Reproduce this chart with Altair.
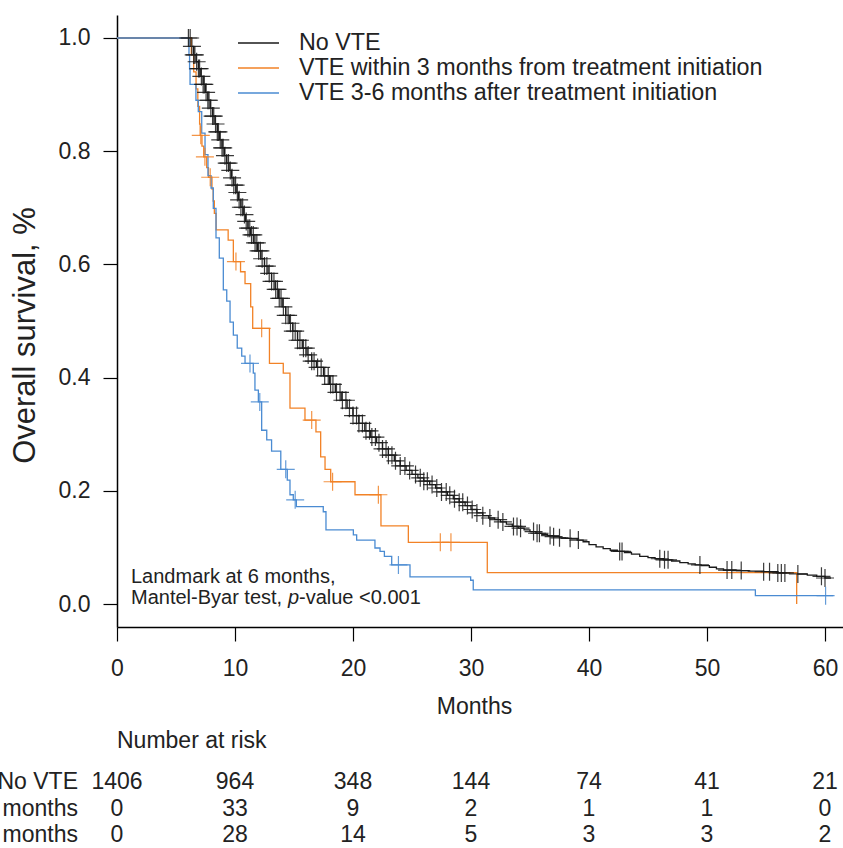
import altair as alt
import numpy as np
import pandas as pd

FONT = "Liberation Sans"
TXT = "#222222"

GROUPS = ["No VTE",
          "VTE within 3 months from treatment initiation",
          "VTE 3-6 months after treatment initiation"]
COLORS = ["#1a1a1a", "#F28226", "#4A8BD2"]

# Kaplan-Meier step points (months, survival)
NOVTE_T = [0, 6.0, 6.3, 6.5, 6.7, 6.9, 7.1, 7.3, 7.5, 7.7, 7.9, 8.1, 8.3, 8.5, 8.7, 8.9,
           9.1, 9.3, 9.5, 9.7, 9.9, 10.1, 10.3, 10.5, 10.7, 10.9, 11.1, 11.3, 11.6, 11.9,
           12.2, 12.5, 12.8, 13.1, 13.4, 13.7, 14.0, 14.3, 14.6, 14.9, 15.3, 15.7, 16.1,
           16.5, 16.9, 17.5, 18.0, 18.5, 19.0, 19.5, 20.0, 20.5, 21.0, 21.5, 22.0, 22.5,
           23.0, 23.5, 24.0, 24.5, 25.0, 25.5, 26.0, 26.5, 27.0, 27.5, 28.0, 28.5, 29.0,
           29.5, 30.0, 30.5, 31.0, 31.5, 32.0, 32.5, 33.0, 33.5, 34.0, 34.5, 35.0, 35.5,
           36.0, 36.5, 37.0, 37.5, 38.0, 38.5, 39.0, 39.5, 40.0, 40.6, 41.2, 41.8, 42.4,
           43.0, 43.6, 44.3, 45.0, 45.6, 46.3, 47.0, 47.7, 48.4, 49.0, 49.5, 50.2, 50.8,
           51.4, 52.5, 53.5, 54.8, 56.0, 57.6, 58.5, 59.3, 60.0, 60.5]
NOVTE_S = [1.0, 1.0, 0.985, 0.970, 0.958, 0.946, 0.932, 0.918, 0.904, 0.890, 0.876, 0.862,
           0.848, 0.834, 0.820, 0.806, 0.792, 0.779, 0.766, 0.753, 0.740, 0.727, 0.714,
           0.701, 0.688, 0.676, 0.664, 0.652, 0.638, 0.624, 0.610, 0.597, 0.584, 0.570,
           0.556, 0.540, 0.525, 0.510, 0.496, 0.482, 0.466, 0.452, 0.440, 0.429, 0.418,
           0.403, 0.388, 0.374, 0.360, 0.346, 0.333, 0.319, 0.306, 0.295, 0.285, 0.274,
           0.263, 0.253, 0.244, 0.236, 0.229, 0.223, 0.217, 0.211, 0.205, 0.198, 0.192,
           0.186, 0.180, 0.174, 0.167, 0.161, 0.156, 0.152, 0.149, 0.145, 0.141, 0.137,
           0.134, 0.131, 0.128, 0.125, 0.123, 0.121, 0.119, 0.117, 0.116, 0.115, 0.113,
           0.110, 0.105, 0.101, 0.098, 0.095, 0.093, 0.091, 0.088, 0.084, 0.082, 0.080,
           0.078, 0.076, 0.073, 0.071, 0.069, 0.068, 0.065, 0.062, 0.060, 0.059, 0.058,
           0.057, 0.055, 0.053, 0.051, 0.049, 0.046, 0.046]
NOVTE_CENS = [6.05, 6.2, 6.35, 6.5, 6.6, 6.75, 6.9, 7.0, 7.15, 7.3, 7.4, 7.55, 7.7, 7.8,
              7.95, 8.1, 8.2, 8.35, 8.5, 8.6, 8.75, 8.9, 9.0, 9.15, 9.3, 9.45, 9.6, 9.75,
              9.9, 10.05, 10.2, 10.35, 10.5, 10.65, 10.8, 10.95, 11.1, 11.25, 11.4, 11.55,
              11.7, 11.85, 12.0, 12.15, 12.3, 12.5, 12.7, 12.9, 13.1, 13.3, 13.45, 13.6,
              13.75, 13.9, 14.1, 14.3, 14.5, 14.7, 14.9, 15.1, 15.3, 15.5, 15.8, 16.0,
              16.2, 16.5, 16.7, 17.0, 17.3, 17.6, 17.9, 18.1, 18.3, 18.6, 18.9, 19.1, 19.4,
              19.7, 20.0, 20.3, 20.5, 20.8, 21.1, 21.4, 21.6, 21.9, 22.2, 22.5, 22.8, 23.0,
              23.3, 23.6, 24.0, 24.4, 24.8, 25.3, 25.7, 26.0, 26.3, 26.7, 27.1, 27.5, 27.9,
              28.2, 28.6, 29.0, 29.3, 29.7, 30.1, 30.5, 31.0, 31.6, 32.3, 32.7, 33.6, 33.9,
              34.2, 35.3, 35.6, 35.8, 36.7, 37.0, 37.5, 38.4, 39.1, 42.6, 42.8, 46.0, 46.4,
              46.7, 49.4, 51.7, 52.1, 52.9, 54.8, 55.3, 56.0, 56.3, 56.6, 57.7, 59.7, 60.0]

VTE03_T = [0, 6.0, 6.3, 6.5, 6.7, 6.85, 7.0, 7.05, 7.2, 7.35, 7.6, 7.75, 8.05, 8.15, 8.25,
           8.4, 9.42, 9.86, 10.47, 10.85, 11.33, 11.5, 12.92, 14.09, 14.66, 15.93, 16.86,
           17.26, 17.63, 18.11, 20.17, 22.37, 24.69, 31.38, 57.6]
VTE03_S = [1.0, 1.0, 0.970, 0.940, 0.910, 0.879, 0.848, 0.828, 0.809, 0.790, 0.771, 0.754,
           0.733, 0.712, 0.690, 0.661, 0.643, 0.605, 0.587, 0.566, 0.525, 0.487, 0.425,
           0.408, 0.346, 0.325, 0.304, 0.260, 0.238, 0.216, 0.193, 0.138, 0.109, 0.0553, 0.0]
VTE03_CENS = [7.1, 7.45, 7.9, 10.08, 12.26, 16.5, 18.27, 22.15, 27.4, 28.3]

VTE36_T = [0, 6.0, 6.1, 6.15, 6.19, 6.69, 6.89, 7.18, 7.46, 7.71, 7.97, 8.16, 8.39, 8.67,
           9.01, 9.30, 9.58, 9.86, 10.19, 10.57, 10.85, 11.55, 11.69, 11.98, 12.26, 12.69,
           13.1, 13.88, 14.43, 14.66, 14.94, 15.2, 17.48, 17.71, 20.03, 20.31, 21.86, 22.29,
           22.66, 23.28, 24.83, 29.97, 30.19, 54.1, 60.7]
VTE36_S = [1.0, 1.0, 0.97, 0.945, 0.918, 0.890, 0.870, 0.832, 0.794, 0.757, 0.735, 0.699,
           0.647, 0.611, 0.555, 0.535, 0.498, 0.475, 0.452, 0.438, 0.425, 0.408, 0.378,
           0.357, 0.307, 0.290, 0.270, 0.238, 0.219, 0.193, 0.184, 0.172, 0.163, 0.131,
           0.122, 0.113, 0.099, 0.093, 0.084, 0.069, 0.048, 0.042, 0.025, 0.0147, 0.0147]
VTE36_CENS = [11.27, 12.1, 14.3, 15.1, 23.85, 60.05]

# Number at risk table
RISK_LABELS = ["No VTE", "VTE within 3 months", "VTE 3-6 months"]
RISK_TIMES = [0, 10, 20, 30, 40, 50, 60]
RISK_NOVTE = [1406, 964, 348, 144, 74, 41, 21]
RISK_VTE03 = [0, 33, 9, 2, 1, 1, 0]
RISK_VTE36 = [0, 28, 14, 5, 3, 3, 2]

# ---------- tables ----------
curves = [(NOVTE_T, NOVTE_S, NOVTE_CENS), (VTE03_T, VTE03_S, VTE03_CENS),
          (VTE36_T, VTE36_S, VTE36_CENS)]
line_rows, cens_rows = [], []
for g, (ts, ss, cs) in zip(GROUPS, curves):
    ts_a, ss_a = np.array(ts), np.array(ss)
    for i, (t, s) in enumerate(zip(ts, ss)):
        line_rows.append({"group": g, "t": t, "s": s, "o": i})
    for c in cs:
        k = np.searchsorted(ts_a, c, side="right") - 1
        cens_rows.append({"group": g, "t": c, "s": float(ss_a[k])})
line_df = pd.DataFrame(line_rows)
cens_df = pd.DataFrame(cens_rows)

risk_rows = []
for lab, vals in zip(RISK_LABELS, [RISK_NOVTE, RISK_VTE03, RISK_VTE36]):
    for t, n in zip(RISK_TIMES, vals):
        risk_rows.append({"label": lab, "t": t, "n": str(n)})
risk_df = pd.DataFrame(risk_rows)

W, H = 726, 612
xscale = alt.Scale(domain=[0, W / 11.8], nice=False, zero=False)
yscale = alt.Scale(domain=[-0.0406, 1.0406], nice=False, zero=False)
cscale = alt.Scale(domain=GROUPS, range=COLORS)

xaxis = alt.Axis(values=RISK_TIMES, format="d", title="Months", grid=False,
                 tickSize=14, tickWidth=1.2, tickColor="#000", domainColor="#000",
                 domainWidth=1.5, labelFontSize=23, labelColor=TXT, labelFont=FONT,
                 labelPadding=16, titleFont=FONT, titleFontSize=23, titleFontWeight="normal",
                 titleColor=TXT, titleX=357, titleY=79, titleBaseline="middle",
                 titleAlign="center", labelFlush=False)
yaxis = alt.Axis(values=[0, 0.2, 0.4, 0.6, 0.8, 1.0], format=".1f",
                 title="Overall survival, %", grid=False, tickSize=14, tickWidth=1.2,
                 tickColor="#000", domainColor="#000", domainWidth=1.5, labelFontSize=23,
                 labelColor=TXT, labelFont=FONT, labelPadding=13, titleFont=FONT,
                 titleFontSize=31, titleFontWeight="normal", titleColor=TXT, titleX=-92,
                 titleY=320, titleAngle=270, titleBaseline="middle", titleAlign="center",
                 labelFlush=False)

X = alt.X("t:Q", scale=xscale, axis=xaxis)

lines = alt.Chart(line_df).mark_line(interpolate="step-after", strokeWidth=1.3).encode(
    x=X,
    y=alt.Y("s:Q", scale=yscale, axis=yaxis),
    color=alt.Color("group:N", scale=cscale, legend=None),
    order="o:Q",
)
cens = alt.Chart(cens_df).mark_point(
    shape="M-1,0L1,0M0,-1L0,1", size=324, filled=False, strokeWidth=1.2, opacity=0.85
).encode(
    x=X,
    y=alt.Y("s:Q", scale=yscale, axis=yaxis),
    color=alt.Color("group:N", scale=cscale, legend=None),
)
main = alt.layer(lines, cens)

# risk table
ry = alt.Y("label:N", scale=alt.Scale(type="point", domain=RISK_LABELS, range=[767, 820],
                                      padding=0), axis=None)
risk_nums = alt.Chart(risk_df).mark_text(font=FONT, fontSize=23, color=TXT,
                                          align="center", baseline="middle").encode(
    x=X, y=ry, text="n:N")
risk_labs = alt.Chart(pd.DataFrame({"label": RISK_LABELS})).mark_text(
    font=FONT, fontSize=23, color=TXT, align="right", baseline="middle").encode(
    x=alt.value(-39), y=ry, text="label:N")
risk_title = alt.Chart(pd.DataFrame({"a": [0]})).mark_text(
    font=FONT, fontSize=23, color=TXT, align="left", baseline="middle",
    text="Number at risk").encode(x=alt.value(0), y=alt.value(726))
risk = alt.layer(risk_nums, risk_labs, risk_title)

# legend
ly = alt.Y("group:N", scale=alt.Scale(type="point", domain=GROUPS, range=[28, 78],
                                      padding=0), axis=None)
leg_df = pd.DataFrame({"group": GROUPS})
leg_lines = alt.Chart(leg_df).mark_rule(strokeWidth=1.3).encode(
    x=alt.value(121), x2=alt.value(162), y=ly,
    color=alt.Color("group:N", scale=cscale, legend=None))
leg_text = alt.Chart(leg_df).mark_text(font=FONT, fontSize=23.3, color=TXT, align="left",
                                       baseline="middle").encode(
    x=alt.value(182), y=ly, text="group:N")
legend = alt.layer(leg_lines, leg_text)

# annotation
ann_df = pd.DataFrame({"a": [0]})
a1 = alt.Chart(ann_df).mark_text(font=FONT, fontSize=20, color=TXT, align="left",
                                 baseline="middle", text="Landmark at 6 months,").encode(
    x=alt.value(14), y=alt.value(562))
a2 = alt.Chart(ann_df).mark_text(font=FONT, fontSize=20, color=TXT, align="left",
                                 baseline="middle", text="Mantel-Byar test,").encode(
    x=alt.value(14), y=alt.value(583))
a3 = alt.Chart(ann_df).mark_text(font=FONT, fontSize=20, color=TXT, align="left",
                                 baseline="middle", fontStyle="italic", text="p").encode(
    x=alt.value(14 + 157), y=alt.value(583))
a4 = alt.Chart(ann_df).mark_text(font=FONT, fontSize=20, color=TXT, align="left",
                                 baseline="middle", text="-value <0.001").encode(
    x=alt.value(14 + 168), y=alt.value(583))
ann = alt.layer(a1, a2, a3, a4)

chart = alt.layer(main, risk, legend, ann).resolve_scale(y="independent").properties(
    width=W, height=H,
    autosize=alt.AutoSizeParams(type="none"),
    padding={"left": 117, "top": 15, "right": 0, "bottom": 221},
    background="white",
).configure_view(stroke=None)

chart.save("out.html", embed_options={"renderer": "svg", "actions": False})
